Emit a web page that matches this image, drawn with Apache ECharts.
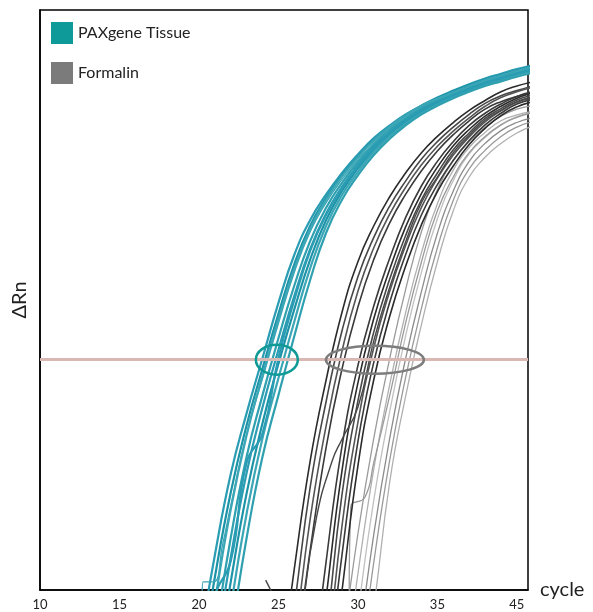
<!DOCTYPE html>
<html>
<head>
<meta charset="utf-8">
<script src="https://cdn.jsdelivr.net/npm/echarts@6/dist/echarts.min.js"></script>
<style>
  html, body { margin: 0; padding: 0; background: #fff; }
  #chart { width: 593px; height: 612px; }
</style>
</head>
<body>
<div id="chart"></div>
<script>
// x tick values and the text printed under them (the figure prints 45 at the last tick)
const tickValues = [10, 15, 20, 25, 30, 35, 40];
const tickLabels = ['10', '15', '20', '25', '30', '35', '45'];

const thresholdRn = 39.7;
// Ct marks circled on the threshold line
const tealCt = 24.9;
const greyCt = 31.07;

// PAXgene Tissue curves, one value per cycle
const tealCycles = [20, 21, 22, 23, 24, 25, 26, 27, 28, 29, 30, 31, 32, 33, 34, 35, 36, 37, 38, 39, 40, 41];
const teal1 = [-10, 6, 20, 30.5, 40, 49.5, 57.8, 63.8, 68.2, 71.9, 75.1, 77.9, 80.1, 82, 83.5, 84.9, 86.1, 87.2, 88.2, 89, 89.8, 90.5];
const teal2 = [-14.8, 2.2, 16.8, 28.4, 38.2, 47.6, 56.2, 62.8, 67.6, 71.5, 74.7, 77.6, 79.9, 81.8, 83.5, 84.8, 86, 87.1, 88, 88.8, 89.6, 90.3];
const teal3 = [-19, -2, 13.9, 26.7, 37, 46.6, 55.3, 62.3, 67.3, 71.3, 74.6, 77.5, 79.9, 81.8, 83.5, 84.7, 85.8, 86.9, 87.9, 88.7, 89.5, 90.2];
const teal4 = [-25, -8, 9, 23, 33.6, 43.4, 52.5, 60.2, 65.9, 70.2, 73.8, 76.8, 79.4, 81.3, 83.1, 84.4, 85.6, 86.7, 87.7, 88.5, 89.3, 90];
const teal5 = [-28, -11.4, 5.6, 20.2, 31.5, 41.4, 50.7, 58.8, 64.9, 69.5, 73.3, 76.4, 79, 81, 82.8, 84.2, 85.4, 86.5, 87.5, 88.3, 89.1, 89.8];
const teal6 = [-32, -15.6, 1.4, 16.7, 28.8, 39, 48.4, 57, 63.8, 68.8, 72.7, 75.9, 78.6, 80.7, 82.5, 84, 85.2, 86.3, 87.3, 88.1, 88.9, 89.6];
const teal7 = [-36, -19.9, -2.9, 13.2, 26.2, 36.5, 46.3, 55.5, 62.8, 68.1, 72.1, 75.5, 78.2, 80.4, 82.2, 83.7, 85, 86.1, 87.1, 88, 88.8, 89.5];
const teal8 = [-40, -25, -8, 9, 23, 33.6, 43.8, 53.5, 61.6, 67.3, 71.5, 75, 77.8, 80.1, 82, 83.5, 84.8, 85.9, 86.9, 87.7, 88.5, 89.2];
const teal9 = [-15, -1, 5, 22, 27, 40, 50, 58.5, 64.7, 69.3, 73, 76.1, 78.8, 80.9, 82.7, 84.1, 85.3, 86.4, 87.4, 88.2, 89, 89.7];
// one teal run with a flat step at the bottom, as [cycle, ΔRn]
const tealStep = [[20.2, -2], [20.25, 1.4], [20.9, 1.4], [21.5, 8], [22, 14.5], [23, 27], [24, 36.5], [25, 46], [26, 54.8], [27, 61.8], [28, 66.8], [29, 70.8], [30, 74.2], [31, 77.1], [32, 79.7], [33, 81.6], [34, 83.3], [35, 84.6], [36, 85.7], [37, 86.8], [38, 87.8], [39, 88.6], [40, 89.4], [41, 90.1]];

// Formalin, early dark curves
const darkACycles = [25, 26, 27, 28, 29, 30, 31, 32, 33, 34, 35, 36, 37, 38, 39, 40, 41];
const darkA1 = [-16.5, 3.7, 22.3, 36.2, 47.9, 56.6, 62.8, 67.8, 71.9, 75.4, 78.2, 80.6, 82.7, 84.4, 85.9, 86.9, 87.6];
const darkA2 = [-22, -2.8, 17.8, 32.5, 44.7, 54, 60.8, 66.2, 70.5, 74.3, 77.3, 79.8, 82, 83.9, 85.2, 86.1, 86.9];
const darkA3 = [-28, -8.9, 12.3, 28.3, 41.2, 51.5, 59, 64.8, 69.4, 73.3, 76.5, 79.1, 81.4, 83.4, 84.9, 85.9, 86.7];
const darkA4 = [-32, -13.4, 6.9, 24.6, 38.1, 48.8, 57, 63.3, 68.2, 72.3, 75.7, 78.5, 80.9, 82.9, 84.2, 85.1, 85.8];

// Formalin, later dark curves
const darkBCycles = [27, 28, 29, 30, 31, 32, 33, 34, 35, 36, 37, 38, 39, 40, 41];
const darkB1 = [-18, 4.9, 24.8, 38.7, 49, 57.2, 64.2, 69.7, 73.9, 77.3, 80.1, 82.2, 83.8, 85.1, 85.9];
const darkB2 = [-23, -1.3, 20.6, 35.7, 46.8, 55.3, 62.6, 68.4, 72.9, 76.6, 79.4, 81.7, 83.4, 84.8, 85.7];
const darkB3 = [-28, -7.5, 16.5, 32.6, 44.5, 53.6, 61.1, 67.3, 71.9, 75.9, 78.8, 81.3, 83, 84.5, 85.3];
const darkB4 = [-32, -13, 11.1, 28.9, 41.8, 51.5, 59.4, 66, 71, 75, 78.1, 80.7, 82.6, 84.1, 84.9];
const darkB5 = [-36, -17, 6.1, 25.6, 39.3, 49.6, 57.8, 64.7, 69.9, 74.1, 77.5, 80.2, 82.2, 83.8, 84.6];
const darkB6 = [-40, -22, -0.1, 21.4, 36.3, 47.2, 55.8, 63, 68.7, 73.1, 76.8, 79.6, 81.8, 83.3, 84.2];
const darkKink = [[26.6, -2], [27.4, 12.6], [28.4, 22.4], [29, 26], [30, 31.5], [31, 43], [32, 52.2], [33, 60], [34, 66.8], [35, 71.2], [36, 75.4], [37, 78.4], [38, 81], [39, 82.7], [40, 84.2], [41, 85]];
const darkStub = [[24.2, 1.7], [24.6, -0.5]];

// Formalin, light grey curves
const lightCycles = [29, 30, 31, 32, 33, 34, 35, 36, 37, 38, 39, 40, 41];
const light1 = [-10.3, 9.7, 26.2, 39.9, 51.8, 61.8, 69, 74, 77.3, 79.8, 81.7, 82.9, 83.5];
const light2 = [-17.6, 2.8, 20.9, 35.4, 47.8, 58.2, 66.6, 72.4, 76.3, 78.9, 80.9, 81.9, 82.5];
const light3 = [-25, -4, 15.5, 30.8, 43.8, 54.8, 64, 70.6, 75.2, 78, 80.2, 81.6, 82.3];
const light4 = [-30, -10.3, 9.65, 26.2, 39.9, 51.5, 61.5, 68.8, 73.9, 77, 79.2, 80.6, 81.4];
const light5 = [-34, -15.6, 4.8, 22.4, 36.6, 48.6, 59, 67.2, 72.6, 75.8, 78.2, 79.8, 80.8];
const light6 = [-38, -20.8, -3, 18.6, 33.4, 45.8, 56.6, 65.4, 71.2, 74.6, 77, 78.8, 80];
const lightKink = [[29.45, -1], [29.55, 14.3], [30.44, 16], [31, 22], [32, 33.5], [33, 46], [34, 56.6], [35, 65.4], [36, 71.2], [37, 75.4], [38, 78.2], [39, 80.2], [40, 81.5], [41, 82.3]];

const FONT = 'Lato, "DejaVu Sans", sans-serif';
const tealColors = ['#2a9cb3', '#1d93a8', '#3ba6b6', '#2fa0b0'];
const darkColors = ['#3a3a3a', '#2b2b2b', '#474747', '#555555'];
const lightColors = ['#9a9a9a', '#b0b0b0', '#c0c0c0', '#8c8c8c'];

function pairs(cycles, vals) {
  return cycles.map((c, i) => [c, vals[i]]);
}

function curve(name, data, color, width) {
  return {
    name: name,
    type: 'line',
    data: data,
    showSymbol: false,
    smooth: 0.5,
    silent: true,
    clip: true,
    lineStyle: { color: color, width: width || 1.3 },
    itemStyle: { color: color },
    emphasis: { disabled: true },
    z: 2
  };
}

const series = [];

[light1, light2, light3, light4, light5, light6].forEach((v, i) => {
  series.push(curve('Formalin', pairs(lightCycles, v), lightColors[i % 4], 1.3));
});
series.push(curve('Formalin', lightKink, lightColors[0], 1.3));

[darkB1, darkB2, darkB3, darkB4, darkB5, darkB6].forEach((v, i) => {
  series.push(curve('Formalin', pairs(darkBCycles, v), darkColors[i % 4], 1.6));
});
[darkA1, darkA2, darkA3, darkA4].forEach((v, i) => {
  series.push(curve('Formalin', pairs(darkACycles, v), darkColors[(i + 1) % 4], 1.6));
});
series.push(curve('Formalin', darkKink, darkColors[2], 1.4));
series.push(curve('Formalin', darkStub, darkColors[2], 1.4));

[teal1, teal2, teal3, teal4, teal5, teal6, teal7, teal8, teal9].forEach((v, i) => {
  series.push(curve('PAXgene Tissue', pairs(tealCycles, v), tealColors[i % 4], 2.2));
});
series.push(curve('PAXgene Tissue', tealStep, tealColors[2], 1.4));

// threshold line
series.push({
  type: 'line',
  data: [],
  silent: true,
  markLine: {
    silent: true,
    symbol: 'none',
    label: { show: false },
    lineStyle: { color: '#d9b8b3', width: 3, type: 'solid' },
    data: [{ yAxis: thresholdRn }]
  },
  z: 1
});

// ellipses around the Ct crossings
const ringStyle = [
  { rx: 21, ry: 15, color: '#0f9a96' },
  { rx: 49, ry: 14, color: '#7d7d7d' }
];
series.push({
  type: 'custom',
  silent: true,
  data: [[tealCt, thresholdRn], [greyCt, thresholdRn]],
  renderItem: function (params, api) {
    const p = api.coord([api.value(0), api.value(1)]);
    const s = ringStyle[params.dataIndex];
    return {
      type: 'ellipse',
      shape: { cx: p[0], cy: p[1], rx: s.rx, ry: s.ry },
      style: { fill: null, stroke: s.color, lineWidth: 2.5 }
    };
  },
  z: 5
});

const chart = echarts.init(document.getElementById('chart'));
chart.setOption({
  animation: false,
  backgroundColor: '#fff',
  textStyle: { fontFamily: FONT },
  legend: {
    left: 46,
    top: 17,
    orient: 'vertical',
    icon: 'rect',
    itemWidth: 22,
    itemHeight: 22,
    itemGap: 18,
    selectedMode: false,
    textStyle: { fontSize: 16, color: '#222', fontFamily: FONT },
    data: [
      { name: 'PAXgene Tissue', itemStyle: { color: '#0f9a9a' } },
      { name: 'Formalin', itemStyle: { color: '#7b7b7b' } }
    ]
  },
  grid: {
    show: true,
    left: 40,
    right: 65,
    top: 10,
    bottom: 22,
    borderColor: '#000',
    borderWidth: 1.5,
    containLabel: false
  },
  xAxis: {
    type: 'value',
    min: 10,
    max: 40.7,
    interval: 5,
    name: 'cycle',
    nameLocation: 'end',
    nameGap: 12,
    nameTextStyle: { fontSize: 20, color: '#222', fontFamily: FONT, padding: [0, 0, 14, 0] },
    axisLine: { show: true, lineStyle: { color: '#000', width: 1.5 } },
    axisTick: { show: false },
    splitLine: { show: false },
    axisLabel: {
      fontSize: 13,
      color: '#222',
      margin: 8,
      showMaxLabel: false,
      formatter: function (v) {
        const i = tickValues.indexOf(v);
        return i >= 0 ? tickLabels[i] : '';
      }
    }
  },
  yAxis: {
    type: 'value',
    min: 0,
    max: 100,
    name: 'ΔRn',
    nameLocation: 'middle',
    nameGap: 10,
    nameTextStyle: { fontSize: 20, color: '#222', fontFamily: FONT },
    axisLine: { show: true, lineStyle: { color: '#000', width: 1.5 } },
    axisTick: { show: false },
    axisLabel: { show: false },
    splitLine: { show: false }
  },
  series: series
});
</script>
</body>
</html>
